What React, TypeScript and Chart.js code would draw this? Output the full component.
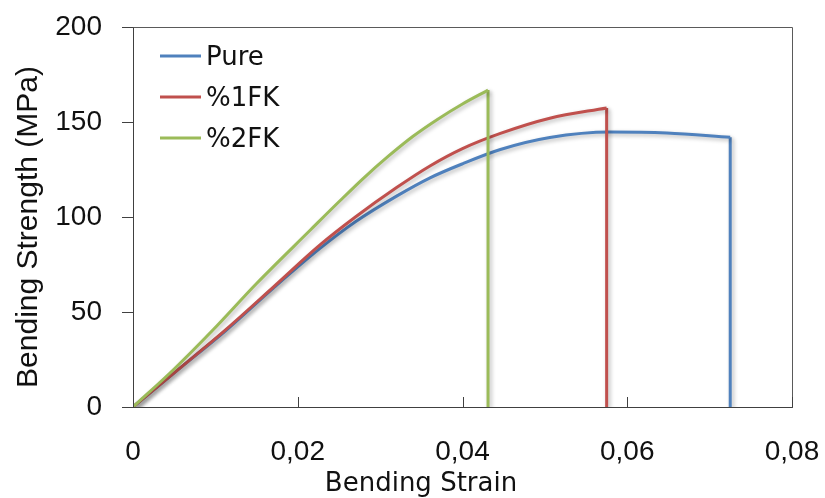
import React, { useEffect, useRef } from 'react';
import { Chart, registerables } from 'chart.js';

Chart.register(...registerables);

// ---- data ----
const seriesNames = ['Pure', '%1FK', '%2FK'];

const pureStrain = [0, 0.005, 0.0112, 0.017, 0.0227, 0.027, 0.032, 0.036, 0.04, 0.0446, 0.0506, 0.0579, 0.0648, 0.0725];
const pureStress = [0, 18, 40, 62.5, 83.5, 97.5, 111, 120.5, 128, 135.5, 141.8, 144.7, 144.2, 142];

const fk1Strain = [0, 0.005, 0.0112, 0.017, 0.0227, 0.027, 0.032, 0.0361, 0.04, 0.0446, 0.0506, 0.0575];
const fk1Stress = [0, 18, 40.5, 63, 85.3, 100, 115.5, 127, 136, 144, 152, 157.4];

const fk2Strain = [0, 0.005, 0.0097, 0.015, 0.0215, 0.025, 0.028, 0.031, 0.034, 0.037, 0.04, 0.0431];
const fk2Stress = [0, 20, 40.5, 65, 93, 108, 120.5, 132, 142.5, 151.5, 159.5, 166.8];

const xTickValues = [0, 0.02, 0.04, 0.06, 0.08];
const xTickLabels = ['0', '0,02', '0,04', '0,06', '0,08'];
const yTickValues = [0, 50, 100, 150, 200];
const yTickLabels = ['0', '50', '100', '150', '200'];

const xAxisTitle = 'Bending Strain';
const yAxisTitle = 'Bending Strength (MPa)';

const COLORS = ['#4F81BD', '#C0504D', '#9BBB59'];
const ORDERS = [3, 2, 1];

const seriesStrain = [pureStrain, fk1Strain, fk2Strain];
const seriesStress = [pureStress, fk1Stress, fk2Stress];

const TICK_FONT = { family: '"Liberation Sans", Arial, sans-serif', size: 28 };

const shadowPlugin = {
  id: 'lineShadow',
  beforeDatasetsDraw(chart: any) {
    const ctx = chart.ctx;
    ctx.save();
    ctx.shadowColor = 'rgba(0,0,0,0.28)';
    ctx.shadowBlur = 4;
    ctx.shadowOffsetX = 2;
    ctx.shadowOffsetY = 2;
  },
  afterDatasetsDraw(chart: any) {
    chart.ctx.restore();
  },
};

const decorPlugin = {
  id: 'decor',
  afterDraw(chart: any) {
    const ctx = chart.ctx;
    const { left, right, top, bottom } = chart.chartArea;
    const xs = chart.scales.x;
    const a = (v: number) => Math.round(v) + 0.5;
    ctx.save();
    // top and right frame
    ctx.strokeStyle = '#5a5a5a';
    ctx.lineWidth = 1;
    ctx.beginPath();
    ctx.moveTo(a(left), a(top));
    ctx.lineTo(a(right), a(top));
    ctx.lineTo(a(right), a(bottom));
    ctx.stroke();
    // inward x ticks
    ctx.strokeStyle = '#404040';
    ctx.beginPath();
    xTickValues.forEach((v) => {
      const px = a(xs.getPixelForValue(v));
      ctx.moveTo(px, bottom);
      ctx.lineTo(px, bottom - 10);
    });
    ctx.stroke();

    // legend
    const legendY = [56, 97, 138];
    const legendBase = [65, 106, 147];
    ctx.font = '26px "DejaVu Sans", sans-serif';
    ctx.textAlign = 'left';
    ctx.textBaseline = 'alphabetic';
    seriesNames.forEach((name, i) => {
      ctx.strokeStyle = COLORS[i];
      ctx.lineWidth = 3;
      ctx.beginPath();
      ctx.moveTo(160, legendY[i]);
      ctx.lineTo(201, legendY[i]);
      ctx.stroke();
      ctx.fillStyle = '#111';
      ctx.fillText(name, 206, legendBase[i]);
    });

    // axis titles
    ctx.fillStyle = '#111';
    ctx.font = '26px "DejaVu Sans", sans-serif';
    ctx.textAlign = 'center';
    ctx.textBaseline = 'alphabetic';
    ctx.fillText(xAxisTitle, 421, 491);

    ctx.save();
    ctx.translate(37, 227);
    ctx.rotate(-Math.PI / 2);
    ctx.font = '30px "Liberation Sans", Arial, sans-serif';
    ctx.textAlign = 'center';
    ctx.textBaseline = 'alphabetic';
    ctx.fillText(yAxisTitle, 0, 0);
    ctx.restore();

    ctx.restore();
  },
};

export default function App() {
  const canvasRef = useRef<HTMLCanvasElement | null>(null);

  useEffect(() => {
    if (!canvasRef.current) return;
    const datasets: any[] = [];
    seriesNames.forEach((name, i) => {
      const xs = seriesStrain[i];
      const ys = seriesStress[i];
      datasets.push({
        label: name,
        data: xs.map((x, j) => ({ x, y: ys[j] })),
        borderColor: COLORS[i],
        borderWidth: 3,
        pointRadius: 0,
        fill: false,
        cubicInterpolationMode: 'monotone',
        order: ORDERS[i],
      });
      const lastX = xs[xs.length - 1];
      const lastY = ys[ys.length - 1];
      datasets.push({
        label: name + ' drop',
        data: [
          { x: lastX, y: lastY },
          { x: lastX, y: 0 },
        ],
        borderColor: COLORS[i],
        borderWidth: 3,
        pointRadius: 0,
        fill: false,
        tension: 0,
        order: ORDERS[i],
      });
    });

    const chart = new Chart(canvasRef.current, {
      type: 'line',
      data: { datasets },
      options: {
        responsive: false,
        animation: false,
        layout: { padding: { left: 0, top: 27, right: 33, bottom: 0 } },
        plugins: {
          legend: { display: false },
          tooltip: { enabled: false },
        },
        scales: {
          x: {
            type: 'linear',
            min: 0,
            max: 0.08,
            afterBuildTicks: (scale: any) => {
              scale.ticks = xTickValues.map((v) => ({ value: v }));
            },
            afterFit: (scale: any) => {
              scale.height = 91;
              scale.paddingLeft = 0;
              scale.paddingRight = 0;
            },
            ticks: {
              font: TICK_FONT,
              color: '#111',
              padding: 28,
              maxRotation: 0,
              autoSkip: false,
              callback: (_v: any, idx: number) => xTickLabels[idx],
            },
            grid: { display: false, drawTicks: false },
            border: { display: true, color: '#404040', width: 1 },
          },
          y: {
            type: 'linear',
            min: 0,
            max: 200,
            afterBuildTicks: (scale: any) => {
              scale.ticks = yTickValues.map((v) => ({ value: v }));
            },
            afterFit: (scale: any) => {
              scale.width = 133;
              scale.paddingTop = 0;
              scale.paddingBottom = 0;
            },
            ticks: {
              font: TICK_FONT,
              color: '#111',
              padding: 20,
              autoSkip: false,
              callback: (_v: any, idx: number) => yTickLabels[idx],
            },
            grid: {
              display: true,
              drawOnChartArea: false,
              drawTicks: true,
              tickLength: 11,
              color: '#404040',
            },
            border: { display: true, color: '#404040', width: 1 },
          },
        },
      } as any,
      plugins: [shadowPlugin, decorPlugin],
    });
    return () => chart.destroy();
  }, []);

  return (
    <div style={{ position: 'absolute', left: 0, top: 0, width: 825, height: 498, background: '#fff' }}>
      <canvas ref={canvasRef} width={825} height={498} style={{ display: 'block' }} />
    </div>
  );
}
